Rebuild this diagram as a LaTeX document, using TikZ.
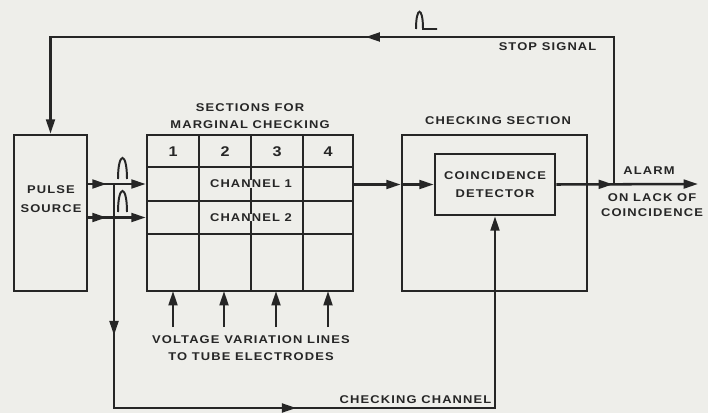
\documentclass[tikz,border=0pt]{standalone}
\usepackage{fontspec}
\newfontfamily\lettering[LetterSpace=10,FakeStretch=1.15]{Liberation Sans}
\usetikzlibrary{arrows.meta,decorations.markings}
\definecolor{paper}{HTML}{EEEEEA}
\definecolor{ink}{HTML}{262626}

\begin{document}
\begin{tikzpicture}[x=0.025cm, y=-0.025cm, >={Triangle[length=0.36cm,width=0.22cm]},
  line width=1.8pt, draw=ink, line join=miter,
  box/.style={draw, line width=1.8pt, inner sep=0pt},
  lbl/.style={font=\lettering\bfseries\fontsize{8}{9}\selectfont, text=ink, align=center, inner sep=1pt},
  cell/.style={lbl, fill=paper, inner xsep=2pt, inner ysep=0pt},
  midarrow/.style={postaction={decorate, decoration={markings, mark=at position #1 with {\arrow{Triangle[length=0.36cm,width=0.22cm]}}}}}]
\fill[paper] (0,0) rectangle (708,413);
\useasboundingbox (0,0) rectangle (708,413);
% blocks
\node[box, minimum width=1.825cm, minimum height=3.9cm] (source) at (50.5,213) {};
\node[lbl] at (51,199) {PULSE\\[4pt]SOURCE};
\node[box, minimum width=5.15cm, minimum height=3.9cm] (grid) at (250,213) {};
\node[box, minimum width=4.625cm, minimum height=3.9cm] (chk) at (494.5,213) {};
\node[box, minimum width=3cm, minimum height=1.525cm, align=center] (det) at (495,184.5) {};
\node[lbl] at (det) {COINCIDENCE\\[4pt]DETECTOR};
% grid lines of the marginal checking sections
\foreach \x in {199,251,303} \draw (\x,135) -- (\x,291);
\foreach \y in {167,201,234} \draw (147,\y) -- (353,\y);
\foreach \n/\x in {1/173,2/225,3/277,4/328} \node[lbl, font=\lettering\bfseries\fontsize{10}{10}\selectfont] at (\x,152) {\n};
\node[cell] (ch1) at (251,184) {CHANNEL 1};
\node[cell] (ch2) at (251,217.5) {CHANNEL 2};
% captions
\node[lbl] at (250,116) {SECTIONS FOR\\[3pt]MARGINAL CHECKING};
\node[lbl] at (498,121) {CHECKING SECTION};
\node[lbl] at (251,348) {VOLTAGE VARIATION LINES\\[3pt]TO TUBE ELECTRODES};
\node[lbl, anchor=east] at (599,47) {STOP SIGNAL};
\node[lbl, anchor=east] at (494,400) {CHECKING CHANNEL};
\node[lbl] at (649,171) {ALARM};
\node[lbl] at (652,205) {ON LACK OF\\[2pt]COINCIDENCE};
% junctions
\coordinate (split) at (114,184);
\coordinate (tap) at (614,184);
\coordinate (alarm) at (698,184);
% pulse inputs
\draw[->, midarrow=0.32] (source.east |- ch1) -- (grid.west |- ch1);
\draw[->, midarrow=0.32] (source.east |- ch2) -- (grid.west |- ch2);
\foreach \y in {179,212} \draw[line width=1.4pt] (118,\y) .. controls (118,\y-28) and (127,\y-28) .. (127,\y);
% checking channel
\draw[->, midarrow=0.19, midarrow=0.51] (split) -- (split |- 0,408) -- (det.south |- 0,408) -- (det.south);
% into the checking section
\draw[->] (grid.east |- det) -- (chk.west |- det);
\draw[->] (chk.west |- det) -- (det.west);
% alarm output and stop signal
\draw[->, midarrow=0.4] (det.east) -- (alarm);
\draw[->, midarrow=0.49] (tap) -- (tap |- 0,37) -- (source.north |- 0,37) -- (source.north);
\draw[line width=1.4pt] (416,29) .. controls (416,6) and (423,6) .. (423,29) -- (437,29);
% voltage variation lines
\foreach \x in {173,224,276,328} \draw[->] (\x,327) -- (\x,291);
\end{tikzpicture}
\end{document}
